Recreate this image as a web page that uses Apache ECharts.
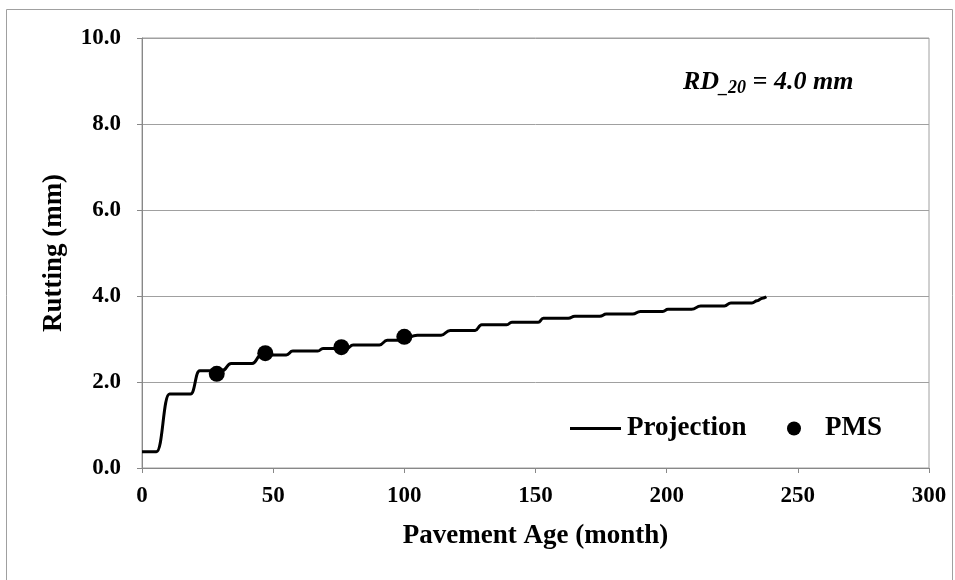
<!DOCTYPE html>
<html><head><meta charset="utf-8">
<script src="https://cdn.jsdelivr.net/npm/echarts@6/dist/echarts.min.js"></script>
<style>html,body{margin:0;padding:0;background:#fff}#c{width:955px;height:580px}</style>
</head><body><div id="c"></div>
<script>
// Projection curve (month, rutting mm)
const projMonths = [0,5.5,10.5,18.5,22,30.5,34,42,45.5,55,57.5,67,69,78,80.5,90.5,93.5,98,102,105,114,117.5,127,129.5,139,141,151,153,162.5,165,174.5,177,187,190,198.5,200.5,209.5,213,222,224.5,232.5,234.5,236.5,238];
const projValues = [0.38,0.38,1.72,1.72,2.26,2.26,2.43,2.43,2.63,2.63,2.72,2.72,2.78,2.78,2.86,2.86,2.97,2.97,3.05,3.09,3.09,3.2,3.2,3.33,3.33,3.39,3.39,3.48,3.48,3.53,3.53,3.58,3.58,3.64,3.64,3.69,3.69,3.77,3.77,3.84,3.84,3.89,3.95,3.98];
// PMS observations
const pmsMonths = [28.5, 47, 76, 100];
const pmsValues = [2.19, 2.67, 2.81, 3.05];
const xTicks = [0,50,100,150,200,250,300];
const yTicks = [0,2,4,6,8,10];

const font = '"Liberation Serif","Times New Roman",serif';
const chart = echarts.init(document.getElementById('c'));
chart.setOption({
  animation:false,
  backgroundColor:'#fff',
  grid:{left:142,right:26,top:38,bottom:112,show:true,borderColor:'#a0a0a0',borderWidth:1},
  xAxis:{type:'value',min:0,max:300,interval:50,
    name:'Pavement Age (month)',nameLocation:'middle',nameGap:55,
    nameTextStyle:{fontFamily:font,fontWeight:'bold',fontSize:27,color:'#000'},
    axisLine:{lineStyle:{color:'#888',width:1}},
    axisTick:{show:true,length:5,lineStyle:{color:'#888'}},
    axisLabel:{fontFamily:font,fontWeight:'bold',fontSize:23,color:'#000',margin:17,
      formatter:v=>xTicks.includes(v)?String(v):''},
    splitLine:{show:false}},
  yAxis:{type:'value',min:0,max:10,interval:2,
    name:'Rutting (mm)',nameLocation:'middle',nameGap:74,nameRotate:90,
    nameTextStyle:{fontFamily:font,fontWeight:'bold',fontSize:27,color:'#000'},
    axisLine:{show:true,lineStyle:{color:'#888',width:1}},
    axisTick:{show:true,length:5,lineStyle:{color:'#888'}},
    axisLabel:{fontFamily:font,fontWeight:'bold',fontSize:23,color:'#000',margin:21,
      formatter:v=>yTicks.includes(v)?v.toFixed(1):''},
    splitLine:{show:true,lineStyle:{color:'#a0a0a0',width:1}}},
  legend:[
    {data:[{name:'Projection',icon:'rect'}],left:565,top:410,itemWidth:51,itemHeight:3,
     textStyle:{fontFamily:font,fontWeight:'bold',fontSize:27,color:'#000',padding:[0,0,0,1]}},
    {data:[{name:'PMS',icon:'circle'}],left:782,top:410,itemWidth:14,itemHeight:14,
     textStyle:{fontFamily:font,fontWeight:'bold',fontSize:27,color:'#000',padding:[0,0,0,19]}}
  ],
  graphic:[
    {type:'rect',left:4,top:7,shape:{width:946,height:600},style:{fill:'none',stroke:'#a0a0a0',lineWidth:1},silent:true,z:-1},
    {type:'text',left:683,top:69,style:{
      rich:{a:{fontFamily:font,fontWeight:'bold',fontStyle:'italic',fontSize:26,fill:'#000'},
            s:{fontFamily:font,fontWeight:'bold',fontStyle:'italic',fontSize:18,fill:'#000',padding:[12,0,0,0]}},
      text:'{a|RD}{s|_20}{a| = 4.0 mm}'}}
  ],
  series:[
    {name:'Projection',type:'line',data:projMonths.map((m,i)=>[m,projValues[i]]),
     showSymbol:false,symbol:'none',smooth:0.5,smoothMonotone:'x',
     lineStyle:{color:'#000',width:3},itemStyle:{color:'#000'},z:2},
    {name:'PMS',type:'scatter',data:pmsMonths.map((m,i)=>[m,pmsValues[i]]),
     symbol:'circle',symbolSize:16,itemStyle:{color:'#000',opacity:1},z:3}
  ]
});
</script></body></html>
